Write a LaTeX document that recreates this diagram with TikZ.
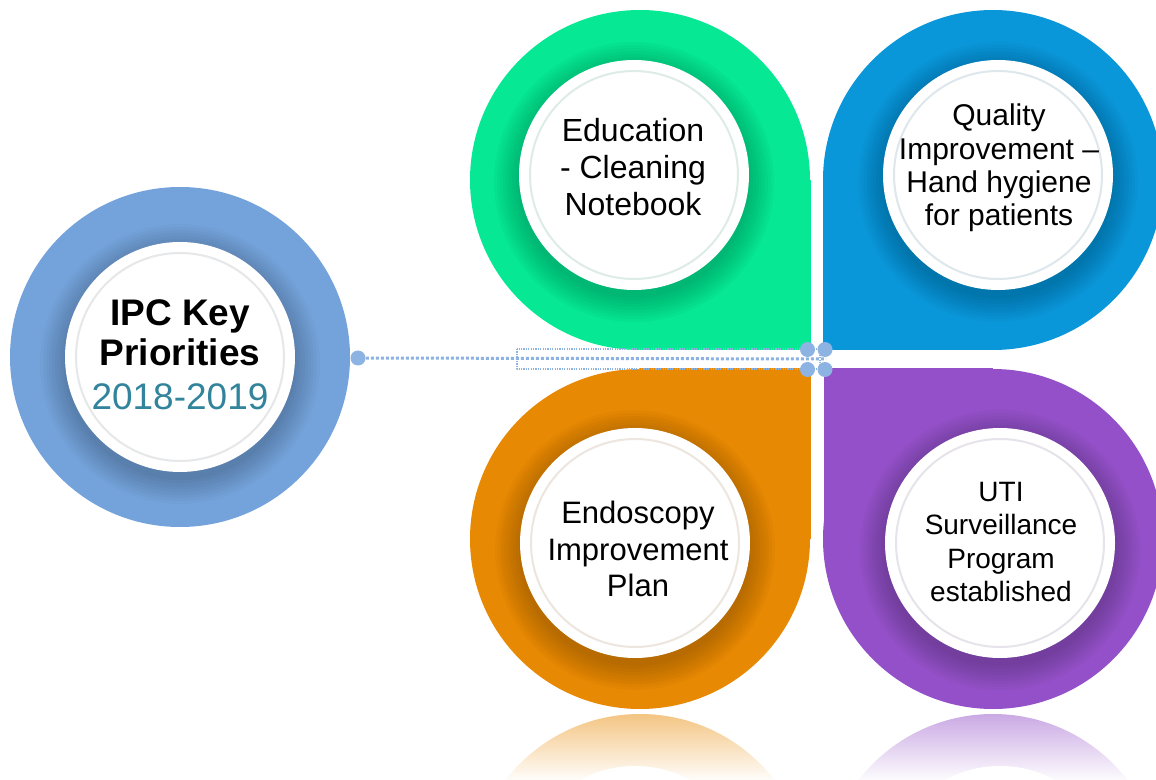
\documentclass[tikz,border=0pt]{standalone}
\usepackage{fontspec}
\setmainfont{Liberation Sans}
\definecolor{hubblue}{HTML}{74A3DC}
\definecolor{petalgreen}{HTML}{06E893}
\definecolor{petalblue}{HTML}{0A97DA}
\definecolor{petalorange}{HTML}{E88903}
\definecolor{petalpurple}{HTML}{9450C8}
\definecolor{yearteal}{HTML}{31849B}
\definecolor{linkblue}{HTML}{8DB3E2}

\begin{document}
\begin{tikzpicture}[
  x=0.5pt,
  y=0.5pt,
  line join=round,
  disc/.style={circle,fill=white,minimum size=115pt,inner sep=0pt},
  ring/.style={line width=1pt},
  caption/.style={align=center,text=black},
  link/.style={draw=linkblue,line width=1.5pt,dash pattern=on 1.5pt off 1pt},
  lane/.style={draw=linkblue,line width=0.6pt,dash pattern=on 0.6pt off 0.6pt},
  knob/.style={circle,fill=linkblue,minimum size=7.5pt,inner sep=0pt}
]
  \useasboundingbox (0,0) rectangle (1156,-780);
  \clip (0,0) rectangle (1156,-780);

  % Hub on the left.
  \fill[hubblue] (180,-357) circle[radius=170];

  % Four petals: round on three sides, one square corner towards the middle.
  \foreach \name/\cx/\cy/\kx/\ky in {green/640/180/810.5/350,
                                     blue/993/180/822.5/350,
                                     orange/640/539/810.5/368,
                                     purple/993/539/823.5/368} {
    \fill[petal\name] (\cx,-\cy) circle[radius=170];
    \fill[petal\name] (\cx,-\cy) rectangle (\kx,-\ky);
  }

  % Mirror images under the two lower petals.
  \foreach \name/\cx/\dx in {orange/640/635, purple/993/1000} {
    \begin{scope}
      \clip (\cx,-884) circle[radius=170];
      \shade[top color=petal\name!50!white,bottom color=petal\name!2!white]
        (\cx-180,-713) rectangle (\cx+180,-780);
      \fill[white] (\dx,-881) circle[radius=115];
    \end{scope}
  }

  % Soft shadow under each white disc.
  \foreach \cx/\cy in {180/357, 634/175, 998/175, 635/543, 1000/543} {
    \foreach \r in {116,119,...,140} {
      \fill[black,fill opacity=0.022] (\cx,-\cy-7) circle[radius=\r];
    }
  }

  % White discs with their faint inner rings.
  \node[disc] (hub) at (180,-357) {};
  \node[disc] (edu) at (634,-175) {};
  \node[disc] (qi)  at (998,-175) {};
  \node[disc] (endo) at (635,-543) {};
  \node[disc] (uti) at (1000,-543) {};
  \draw[ring,draw=hubblue!20!gray!20] (hub) circle[radius=104];
  \draw[ring,draw=petalgreen!30!gray!20] (edu) circle[radius=104];
  \draw[ring,draw=petalblue!30!gray!20] (qi) circle[radius=104];
  \draw[ring,draw=petalorange!30!gray!20] (endo) circle[radius=104];
  \draw[ring,draw=petalpurple!30!gray!20] (uti) circle[radius=104];

  \node[caption,font=\fontsize{18.5}{20}\selectfont] (title) at (180,-355)
    {\textbf{IPC Key}\\\textbf{Priorities}\\[2pt]\textcolor{yearteal}{2018-2019}};
  \node[caption,font=\fontsize{16}{18.5}\selectfont] (edutext) at (633,-167)
    {Education\\- Cleaning\\Notebook};
  \node[caption,font=\fontsize{15}{16.7}\selectfont] (qitext) at (999,-168)
    {Quality\\Improvement --\\Hand hygiene\\for patients};
  \node[caption,font=\fontsize{15.5}{18.3}\selectfont] (endotext) at (638,-549)
    {Endoscopy\\Improvement\\Plan};
  \node[caption,font=\fontsize{14}{16.7}\selectfont] (utitext) at (1001,-542)
    {UTI\\Surveillance\\Program\\established};

  % Dotted link from the hub to the joint in the middle.
  \node[knob] (tail) at (358,-358) {};
  \coordinate (joint) at (826,-359);
  \draw[lane] (517,-349) rectangle (820,-369);
  \draw[link] (tail) -- (joint);
  \node[knob] (ja) at (807.5,-349.5) {};
  \node[knob] (jb) at (825,-349.5) {};
  \node[knob] (jc) at (807.5,-369.5) {};
  \node[knob] (jd) at (825,-369.5) {};
\end{tikzpicture}
\end{document}
